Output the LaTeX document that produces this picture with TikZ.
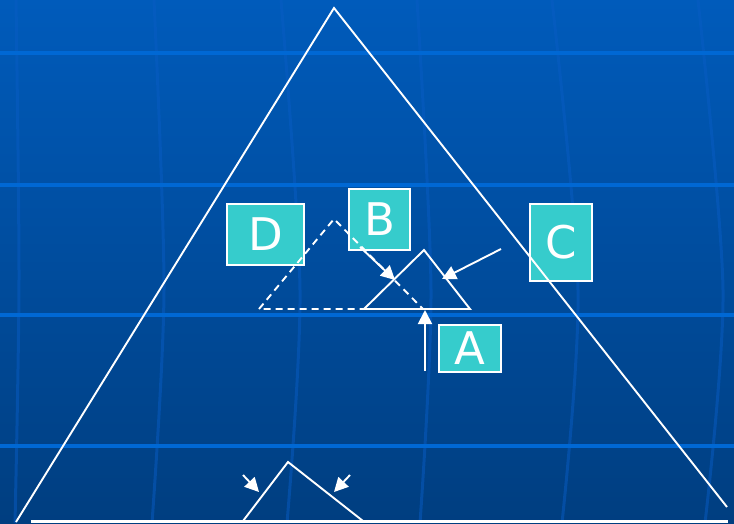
\documentclass[tikz,border=0pt]{standalone}
\usepackage{fontspec}
\setsansfont{DejaVu Sans}
\usetikzlibrary{arrows.meta}
\definecolor{bgtop}{RGB}{0,91,187}
\definecolor{bgbot}{RGB}{0,62,128}
\definecolor{hgrid}{RGB}{0,104,212}
\definecolor{vgrid}{RGB}{8,92,196}
\definecolor{boxteal}{RGB}{54,204,204}
\tikzset{
  hgridline/.style={hgrid, line width=4pt},
  vgridline/.style={vgrid, line width=3pt, opacity=0.5},
  wline/.style={white, line width=1.9pt},
  dline/.style={white, line width=1.9pt, dash pattern=on 7pt off 5pt},
  arr/.style={white, line width=1.9pt, -{Triangle[length=14pt,width=14pt]}},
  lbox/.style={draw=white, line width=1.4pt, fill=boxteal, text=white, inner sep=0pt,
    font=\sffamily\fontsize{45}{45}\selectfont}
}
\begin{document}
\begin{tikzpicture}[x=1pt,y=-1pt]
\useasboundingbox (0,0) rectangle (734,523);
\shade[top color=bgtop, bottom color=bgbot] (0,0) rectangle (734,523);
% vertical faint curved grid lines
\draw[vgridline] plot[smooth] coordinates {(16,0) (19,280) (15,523)};
\draw[vgridline] plot[smooth] coordinates {(154,0) (164,290) (152,523)};
\draw[vgridline] plot[smooth] coordinates {(281,0) (300,290) (287,523)};
\draw[vgridline] plot[smooth] coordinates {(417,0) (431,290) (420,523)};
\draw[vgridline] plot[smooth] coordinates {(552,0) (578,290) (562,523)};
\draw[vgridline] plot[smooth] coordinates {(698,0) (723,290) (705,523)};
% horizontal grid lines
\foreach \yy in {53,185,315,446} \draw[hgridline] (0,\yy) -- (734,\yy);

% boxes
\node[lbox, minimum width=77pt, minimum height=61pt] (D) at (265.5,234.5) {D};
\node[lbox, minimum width=61pt, minimum height=61pt] (B) at (379.5,219.5) {B};
\node[lbox, minimum width=62pt, minimum height=77pt] (C) at (561,242.5) {C};
\node[lbox, minimum width=62pt, minimum height=47pt] (A) at (470,348.5) {A};

% coordinates
\coordinate (T1) at (16,522);
\coordinate (T2) at (334,8);
\coordinate (T3) at (727,507);
\coordinate (d1) at (259,309);
\coordinate (d2) at (334,219);
\coordinate (d3) at (423,309);
\coordinate (s1) at (364,309);
\coordinate (s2) at (424,250);
\coordinate (s3) at (470,309);
\coordinate (bt1) at (243,521);
\coordinate (bt2) at (288,462);
\coordinate (bt3) at (363,521);
\coordinate (bl1) at (31,521.5);
\coordinate (bl2) at (728,521.5);
\coordinate (aB1) at (360,247);
\coordinate (aB2) at (395,280);
\coordinate (aC1) at (501,249);
\coordinate (aC2) at (442,279);
\coordinate (aA1) at (425,371);
\coordinate (aA2) at (425,310);
\coordinate (aL1) at (243,475);
\coordinate (aL2) at (259,492);
\coordinate (aR1) at (350,475);
\coordinate (aR2) at (334,492);

% lines
\draw[wline] (T1) -- (T2) -- (T3);
\draw[dline] (d1) -- (d2) -- (d3) -- cycle;
\draw[wline, line join=miter] (s1) -- (s2) -- (s3) -- cycle;
\draw[wline] (bt1) -- (bt2) -- (bt3);
\draw[white, line width=2.2pt] (bl1) -- (bl2);

% arrows
\draw[arr] (aB1) -- (aB2);
\draw[arr] (aC1) -- (aC2);
\draw[arr] (aA1) -- (aA2);
\draw[arr] (aL1) -- (aL2);
\draw[arr] (aR1) -- (aR2);
\end{tikzpicture}
\end{document}
